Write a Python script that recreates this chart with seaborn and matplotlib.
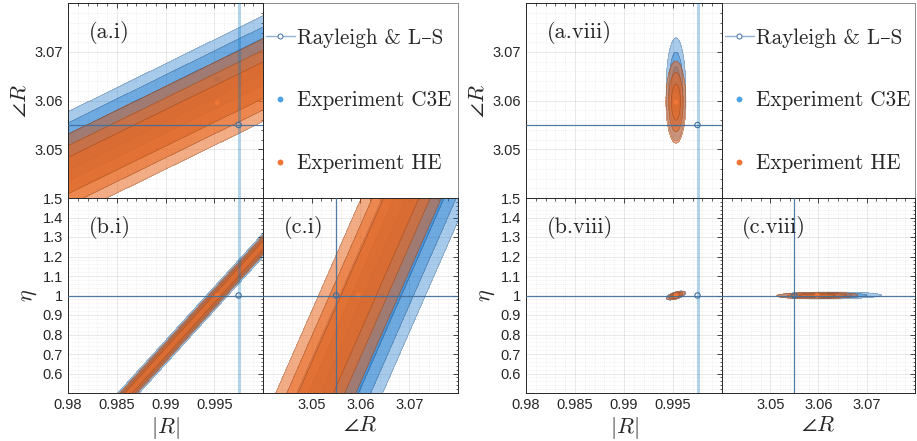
import numpy as np
import matplotlib
matplotlib.use('Agg')
import matplotlib.pyplot as plt
import seaborn as sns
from matplotlib.ticker import MultipleLocator, FixedLocator, FormatStrFormatter
from matplotlib.lines import Line2D

sns.set_style('white')
plt.rcParams['font.family'] = ['Liberation Sans', 'DejaVu Sans']
plt.rcParams['mathtext.fontset'] = 'cm'
SERIF = ['cmr10', 'DejaVu Serif']

# ---------------- data ----------------
AXIS_LABELS = [r'$|R|$', r'$\angle R$', r'$\eta$']
LIMITS = [(0.98, 1.0), (3.04, 3.08), (0.5, 1.5)]
MAJOR_TICKS = [[0.98, 0.985, 0.99, 0.995],
               [3.05, 3.06, 3.07],
               [0.6, 0.7, 0.8, 0.9, 1.0, 1.1, 1.2, 1.3, 1.4, 1.5]]
MINOR_STEP = [0.001, 0.002, 0.02]

TRUTH = [0.9975, 3.055, 1.0]            # Rayleigh & L–S  (|R|, ∠R, η)
MEAN_C3E_I = [0.9953, 3.0645, 1.0]      # Experiment C3E, case i
MEAN_HE_I = [0.9953, 3.0596, 1.0]       # Experiment HE, case i
MEAN_C3E_VIII = [0.9953, 3.0623, 1.0]   # Experiment C3E, case viii
MEAN_HE_VIII = [0.9953, 3.0597, 1.0]    # Experiment HE, case viii

PAIRS = {'a': (0, 1), 'b': (0, 2), 'c': (1, 2)}

# Gaussian spread per panel: (sd of x, slope dy/dx, conditional sd of y given x)
SPREAD_C3E_I = {'a': (1.0, 0.985, 0.00241), 'b': (1.0, 55.0, 0.0176), 'c': (1.0, 57.0, 0.146)}
SPREAD_HE_I = {'a': (1.0, 0.98, 0.00247), 'b': (1.0, 55.0, 0.0144), 'c': (1.0, 57.0, 0.136)}
SPREAD_C3E_VIII = {'a': (0.00029, 0.0, 0.00308), 'b': (0.00029, 13.0, 0.0056), 'c': (0.00312, 0.15, 0.0052)}
SPREAD_HE_VIII = {'a': (0.000297, 0.0, 0.00245), 'b': (0.000273, 14.0, 0.0051), 'c': (0.00245, 0.2, 0.0049)}

SIGMA_LEVELS = [3.439, 2.486, 1.515]   # 2-D 3σ, 2σ, 1σ contours (Mahalanobis radius)

LEGEND_LABELS = ['Rayleigh & L–S', 'Experiment C3E', 'Experiment HE']

BLUE = '#0069C9'
ORANGE = '#E86923'
ALPHA_BLUE = 0.34
ALPHA_ORANGE = 0.55
DOT_BLUE = '#4DA3E6'
DOT_ORANGE = '#EE7536'
REF_THICK = '#0072BD'
REF_THIN = '#3F6E9C'

# ---------------- layout ----------------
W, H = 917, 441
fig = plt.figure(figsize=(W / 100, H / 100), dpi=100)


def rect(x0, x1, ytop, ybot):
    return [x0 / W, 1 - ybot / H, (x1 - x0) / W, (ybot - ytop) / H]


GROUPS = [
    dict(tag='i', xs=(68, 263, 458), means=(MEAN_C3E_I, MEAN_HE_I),
         spreads=(SPREAD_C3E_I, SPREAD_HE_I)),
    dict(tag='viii', xs=(526, 722, 915), means=(MEAN_C3E_VIII, MEAN_HE_VIII),
         spreads=(SPREAD_C3E_VIII, SPREAD_HE_VIII)),
]
Y_TOP, Y_MID, Y_BOT = 3.3, 198, 393


def style_axis(ax, ix, iy, show_x, show_y):
    ax.set_xlim(*LIMITS[ix])
    ax.set_ylim(*LIMITS[iy])
    ax.xaxis.set_major_locator(FixedLocator(MAJOR_TICKS[ix]))
    ax.yaxis.set_major_locator(FixedLocator(MAJOR_TICKS[iy]))
    ax.xaxis.set_minor_locator(MultipleLocator(MINOR_STEP[ix]))
    ax.yaxis.set_minor_locator(MultipleLocator(MINOR_STEP[iy]))
    ax.xaxis.set_major_formatter(FormatStrFormatter('%g'))
    ax.yaxis.set_major_formatter(FormatStrFormatter('%g'))
    ax.grid(True, which='major', color='#000000', alpha=0.10, lw=0.6)
    ax.grid(True, which='minor', color='#000000', alpha=0.10, lw=0.5, linestyle=':')
    ax.set_axisbelow(True)
    ax.tick_params(which='both', direction='in', top=True, right=True,
                   color='#262626', labelsize=10.5, labelcolor='#262626')
    ax.tick_params(which='major', length=3.5, width=0.6)
    ax.tick_params(which='minor', length=1.8, width=0.5)
    ax.tick_params(labelbottom=show_x, labelleft=show_y)
    for s in ax.spines.values():
        s.set_color('#262626')
        s.set_linewidth(0.7)
    if show_x:
        ax.set_xlabel(AXIS_LABELS[ix], fontsize=16, labelpad=2)
    if show_y:
        ax.set_ylabel(AXIS_LABELS[iy], fontsize=16, labelpad=3)


def draw_panel(ax, key, means, spreads):
    ix, iy = PAIRS[key]
    x0, x1 = LIMITS[ix]
    y0, y1 = LIMITS[iy]
    xs = np.linspace(x0, x1, 800)
    ys = np.linspace(y0, y1, 800)
    X, Y = np.meshgrid(xs, ys)
    series = [(means[0], spreads[0], BLUE, ALPHA_BLUE, DOT_BLUE, 1),
              (means[1], spreads[1], ORANGE, ALPHA_ORANGE, DOT_ORANGE, 5)]
    for mean, sp, color, alpha, dot, zdot in series:
        sx, b, c = sp[key]
        mx, my = mean[ix], mean[iy]
        # Mahalanobis distance from the mean
        M = np.sqrt(((X - mx) / sx) ** 2 + ((Y - my - b * (X - mx)) / c) ** 2)
        for r in SIGMA_LEVELS:
            ax.contourf(X, Y, M, levels=[-1, r], colors=[color], alpha=alpha, zorder=2)
        ax.contour(X, Y, M, levels=sorted(SIGMA_LEVELS), colors='k', linewidths=0.45,
                   alpha=0.25, zorder=2)
        sns.scatterplot(x=[mx], y=[my], ax=ax, color=dot, s=14, edgecolor='none',
                        zorder=zdot, legend=False)
    # reference lines
    for idx, orient in [(ix, 'v'), (iy, 'h')]:
        if idx == 0:
            kw = dict(color=REF_THICK, alpha=0.3, lw=2.2, zorder=6)
        else:
            kw = dict(color=REF_THIN, alpha=0.9, lw=0.9, zorder=6)
        if orient == 'v':
            ax.axvline(TRUTH[idx], **kw)
        else:
            ax.axhline(TRUTH[idx], **kw)
    sns.scatterplot(x=[TRUTH[ix]], y=[TRUTH[iy]], ax=ax, marker='o', s=15,
                    facecolor='none', edgecolor=REF_THIN, linewidth=0.8, zorder=7, legend=False)


for g in GROUPS:
    xa, xb, xc = g['xs']
    # legend cell
    axl = fig.add_axes(rect(xb, xc, Y_TOP, Y_MID))
    axl.set_xticks([]); axl.set_yticks([])
    for s in axl.spines.values():
        s.set_color('#8a8a8a'); s.set_linewidth(0.7)
    handles = [
        Line2D([], [], color='#8FB2D4', lw=1.0, marker='o', markersize=3.6,
               markerfacecolor='white', markeredgecolor=REF_THIN, markeredgewidth=0.7),
        Line2D([], [], color=DOT_BLUE, lw=0, marker='o', markersize=4.2, markeredgewidth=0),
        Line2D([], [], color=DOT_ORANGE, lw=0, marker='o', markersize=4.2, markeredgewidth=0),
    ]
    axl.legend(handles, LEGEND_LABELS, loc='center left', bbox_to_anchor=(0.0, 0.5),
               frameon=False, handlelength=1.35, handletextpad=0.12,
               labelspacing=2.05, borderaxespad=0.05, borderpad=0.1,
               prop={'family': SERIF, 'size': 15.2})

    ax_a = fig.add_axes(rect(xa, xb, Y_TOP, Y_MID))
    ax_b = fig.add_axes(rect(xa, xb, Y_MID, Y_BOT))
    ax_c = fig.add_axes(rect(xb, xc, Y_MID, Y_BOT))
    for key, ax, sx_, sy_ in [('a', ax_a, False, True), ('b', ax_b, True, True), ('c', ax_c, True, False)]:
        ix, iy = PAIRS[key]
        draw_panel(ax, key, g['means'], g['spreads'])
        style_axis(ax, ix, iy, sx_, sy_)
        ax.text(0.105, 0.85, '(%s.%s)' % (key, g['tag']), transform=ax.transAxes,
                fontsize=16, va='center', ha='left', zorder=10, family=SERIF)

fig.savefig('out.png', dpi=100)
